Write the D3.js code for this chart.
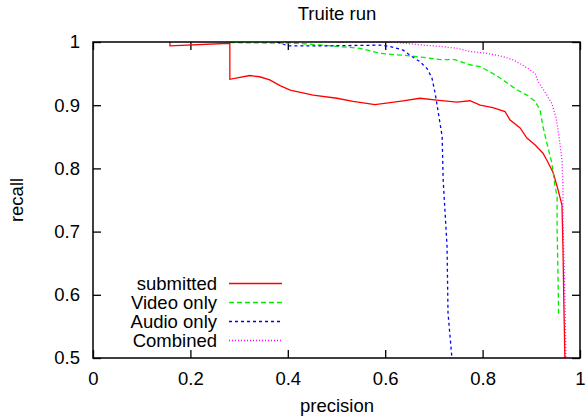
<!DOCTYPE html>
<html>
<head>
<meta charset="utf-8">
<script src="https://cdn.jsdelivr.net/npm/d3@7/dist/d3.min.js"></script>
<style>
html,body{margin:0;padding:0;background:#fff;}
svg{display:block;font-family:"Liberation Sans",Arial,Helvetica,sans-serif;}
</style>
</head>
<body>
<svg id="chart" width="586" height="417"></svg>
<script>
const titleText = "Truite run";
const xLabel = "precision";
const yLabel = "recall";
const xTicks = [0, 0.2, 0.4, 0.6, 0.8, 1];
const yTicks = [0.5, 0.6, 0.7, 0.8, 0.9, 1];
const seriesNames = ["submitted", "Video only", "Audio only", "Combined"];

const submitted = [[0.158,1.0],[0.158,0.994],[0.281,0.998],[0.281,0.941],[0.322,0.947],[0.342,0.945],[0.363,0.940],[0.384,0.931],[0.405,0.924],[0.452,0.916],[0.501,0.911],[0.534,0.906],[0.579,0.901],[0.637,0.907],[0.671,0.911],[0.706,0.908],[0.747,0.905],[0.774,0.907],[0.795,0.900],[0.821,0.896],[0.846,0.890],[0.856,0.877],[0.877,0.864],[0.891,0.848],[0.908,0.837],[0.924,0.824],[0.932,0.813],[0.945,0.793],[0.955,0.766],[0.963,0.742],[0.965,0.676],[0.967,0.579],[0.969,0.5]];

const videoOnly = [[0.281,0.999],[0.419,0.998],[0.487,0.994],[0.548,0.990],[0.589,0.982],[0.651,0.978],[0.686,0.975],[0.713,0.972],[0.743,0.972],[0.774,0.964],[0.795,0.961],[0.815,0.953],[0.836,0.943],[0.871,0.924],[0.891,0.916],[0.908,0.906],[0.918,0.892],[0.924,0.866],[0.932,0.840],[0.942,0.809],[0.949,0.771],[0.953,0.755],[0.953,0.703],[0.955,0.623],[0.956,0.568]];

const audioOnly = [[0.378,1.0],[0.400,0.994],[0.487,0.994],[0.589,0.995],[0.610,0.993],[0.637,0.987],[0.655,0.977],[0.671,0.969],[0.686,0.958],[0.696,0.943],[0.702,0.921],[0.706,0.903],[0.717,0.850],[0.719,0.782],[0.727,0.676],[0.729,0.571],[0.737,0.5]];

const combined = [[0.507,1.0],[0.616,1.0],[0.678,0.995],[0.713,0.993],[0.749,0.990],[0.774,0.985],[0.809,0.982],[0.842,0.977],[0.862,0.972],[0.881,0.964],[0.897,0.956],[0.908,0.950],[0.914,0.937],[0.928,0.921],[0.942,0.903],[0.951,0.880],[0.957,0.850],[0.963,0.813],[0.965,0.771],[0.965,0.718],[0.969,0.592],[0.971,0.5]];

const colors = ["#ff0000", "#00ee00", "#0000ff", "#ff00ff"];
const dashes = [null, "5,3", "3,3", "1,2"];
const allSeries = [submitted, videoOnly, audioOnly, combined];

const svg = d3.select("#chart");
const pL = 93, pR = 580, pT = 42, pB = 358;
const x = d3.scaleLinear().domain([0, 1]).range([pL, pR]);
const y = d3.scaleLinear().domain([0.5, 1]).range([pB, pT]);

svg.append("defs").append("clipPath").attr("id", "clip")
  .append("rect").attr("x", pL).attr("y", pT).attr("width", pR - pL).attr("height", pB - pT);

const fs = 18.5;
const axB = svg.append("g").attr("transform", `translate(0,${pB})`)
  .call(d3.axisBottom(x).tickValues(xTicks).tickFormat(d3.format("")).tickSizeInner(-8).tickSizeOuter(0).tickPadding(14));
const axT = svg.append("g").attr("transform", `translate(0,${pT})`)
  .call(d3.axisTop(x).tickValues(xTicks).tickFormat("").tickSizeInner(-8).tickSizeOuter(0));
const axL = svg.append("g").attr("transform", `translate(${pL},0)`)
  .call(d3.axisLeft(y).tickValues(yTicks).tickFormat(d3.format("")).tickSizeInner(-8).tickSizeOuter(0).tickPadding(13));
const axR = svg.append("g").attr("transform", `translate(${pR},0)`)
  .call(d3.axisRight(y).tickValues(yTicks).tickFormat("").tickSizeInner(-8).tickSizeOuter(0));
[axB, axT, axL, axR].forEach(g => {
  g.select(".domain").remove();
  g.selectAll("line").attr("stroke", "#000").attr("stroke-width", 1.3);
  g.selectAll("text").attr("font-size", fs).attr("fill", "#000").attr("font-family", "Liberation Sans, Arial, sans-serif");
});

const line = d3.line().x(d => x(d[0])).y(d => y(d[1]));
const plot = svg.append("g").attr("clip-path", "url(#clip)");
allSeries.forEach((s, i) => {
  plot.append("path").datum(s).attr("d", line)
    .attr("fill", "none").attr("stroke", colors[i]).attr("stroke-width", 1.3)
    .attr("stroke-dasharray", dashes[i]);
});

svg.append("rect").attr("x", pL).attr("y", pT).attr("width", pR - pL).attr("height", pB - pT)
  .attr("fill", "none").attr("stroke", "#000").attr("stroke-width", 1.5);

svg.append("text").attr("x", 337).attr("y", 20).attr("text-anchor", "middle").attr("font-size", fs).text(titleText);
svg.append("text").attr("x", 337).attr("y", 412).attr("text-anchor", "middle").attr("font-size", fs).text(xLabel);
svg.append("text").attr("transform", "translate(23,200) rotate(-90)").attr("text-anchor", "middle").attr("font-size", fs).text(yLabel);

const legY = [283.5, 302.5, 321.5, 340.5];
seriesNames.forEach((n, i) => {
  svg.append("text").attr("x", 217).attr("y", legY[i] + 6.5).attr("text-anchor", "end").attr("font-size", fs).text(n);
  svg.append("line").attr("x1", 229).attr("x2", 282).attr("y1", legY[i]).attr("y2", legY[i])
    .attr("stroke", colors[i]).attr("stroke-width", 1.3).attr("stroke-dasharray", dashes[i]);
});
</script>
</body>
</html>
